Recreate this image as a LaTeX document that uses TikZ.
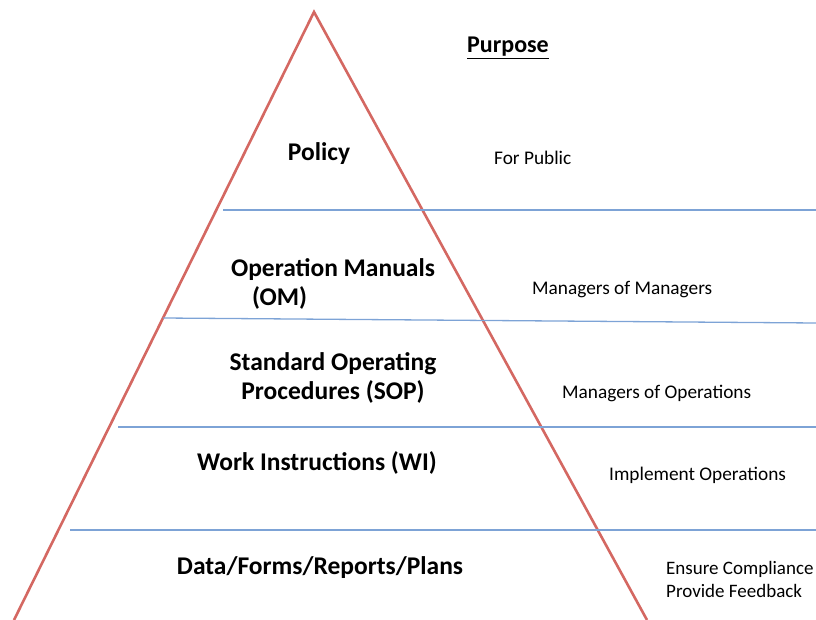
\documentclass[tikz,border=0pt]{standalone}
\usepackage{fontspec}
\setmainfont{Carlito}
\usepackage{xcolor}
\usetikzlibrary{positioning}
\definecolor{edgered}{RGB}{212,104,98}
\definecolor{tierblue}{RGB}{125,163,214}

\begin{document}
\begin{tikzpicture}[
    x=1pt, y=-1pt,
    side/.style={edgered, line width=2.6pt},
    tier/.style={tierblue, line width=1.3pt},
    level/.style={font=\fontsize{25.5}{28.5}\selectfont\bfseries, align=center},
    purpose/.style={font=\fontsize{19.3}{23}\selectfont, anchor=west, align=left, inner xsep=1pt}
]
\useasboundingbox (0,0) rectangle (816,620);

% triangle
\coordinate (apex) at (314,12);
\coordinate (baseL) at (14,620);
\coordinate (baseR) at (647,620);
\draw[side, line join=miter] (baseL) -- (apex) -- (baseR);

% tier lines
\coordinate (t1a) at (223,210);
\coordinate (t1b) at (816,210);
\coordinate (t2a) at (163,318);
\coordinate (t2b) at (816,323);
\coordinate (t3a) at (118,427);
\coordinate (t3b) at (816,427);
\coordinate (t4a) at (70,530);
\coordinate (t4b) at (816,530);
\draw[tier] (t1a) -- (t1b);
\draw[tier] (t2a) -- (t2b);
\draw[tier] (t3a) -- (t3b);
\draw[tier] (t4a) -- (t4b);

% levels
\node[level] (policy) at (319,154) {Policy};
\node[level, align=left] (om) at (333,284) {Operation Manuals\\\hspace*{21pt}(OM)};
\node[level] (sop) at (333,378) {Standard Operating\\Procedures (SOP)};
\node[level] (wi) at (317,463) {Work Instructions (WI)};
\node[level] (data) at (320,568) {Data/Forms/Reports/Plans};

% purpose column
\node[font=\fontsize{24}{28}\selectfont\bfseries] (head) at (508,48) {\underline{Purpose}};
\node[purpose] (p1) at (493,158) {For Public};
\node[purpose] (p2) at (531,290) {Managers of Managers};
\node[purpose] (p3) at (561,393) {Managers of Operations};
\node[purpose] (p4) at (608,475) {Implement Operations};
\node[purpose, font=\fontsize{19}{23}\selectfont] (p5) at (665,579) {Ensure Compliance\\Provide Feedback};

\end{tikzpicture}
\end{document}
